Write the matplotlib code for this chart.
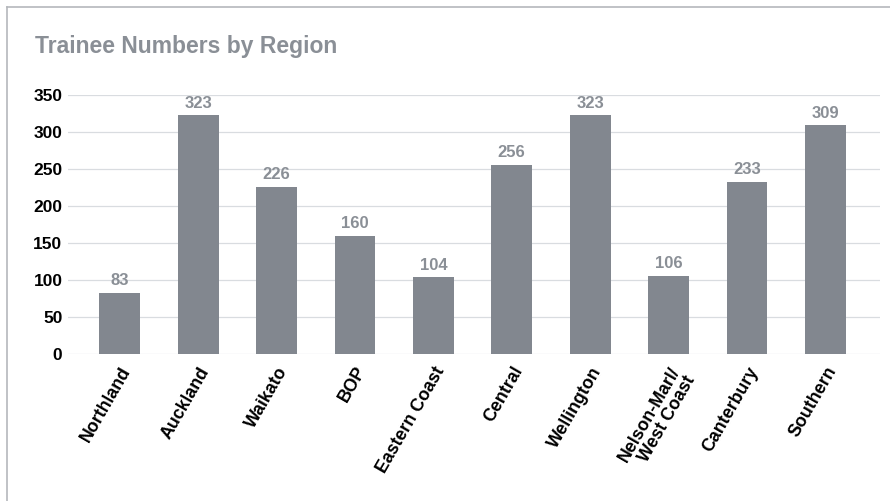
import matplotlib.pyplot as plt
from matplotlib.lines import Line2D

plt.rcParams['font.family'] = ['Liberation Sans', 'DejaVu Sans']

# 数据
regions = ['Northland', 'Auckland', 'Waikato', 'BOP', 'Eastern Coast', 'Central',
           'Wellington', 'Nelson-Marl/\nWest Coast', 'Canterbury', 'Southern']
trainees = [83, 323, 226, 160, 104, 256, 323, 106, 233, 309]
y_ticks = [0, 50, 100, 150, 200, 250, 300, 350]

bar_color = '#82878f'
label_grey = '#8a8f96'

fig = plt.figure(figsize=(8.9, 5.01), dpi=100)
ax = fig.add_axes([0.0764, 0.2934, 0.9126, 0.517])

x = range(len(regions))
ax.bar(x, trainees, width=0.52, color=bar_color, zorder=3)
for xi, v in zip(x, trainees):
    ax.text(xi, v + 6, str(v), ha='center', va='bottom', fontsize=12,
            fontweight='bold', color=label_grey, clip_on=False)

ax.set_xlim(-0.66, 9.7)
ax.set_ylim(0, 350)
ax.set_yticks(y_ticks)
ax.set_yticklabels([str(t) for t in y_ticks], fontsize=12.5, fontweight='bold', color='black')
ax.set_xticks(list(x))
ax.set_xticklabels(regions, rotation=60, ha='right', rotation_mode='anchor',
                   fontsize=12.8, fontweight='bold', color='black', multialignment='right',
                   linespacing=1.05)
ax.tick_params(axis='both', length=0)
ax.tick_params(axis='y', pad=4)
ax.tick_params(axis='x', pad=7)
ax.grid(axis='y', color='#d9dce0', linewidth=0.9, zorder=0)
for s in ax.spines.values():
    s.set_visible(False)

# 标题
fig.text(35 / 890, 1 - 47 / 501, 'Trainee Numbers by Region', fontsize=16.5,
         fontweight='bold', color=label_grey, ha='left', va='center')

# 外框（左、上）
fig.add_artist(Line2D([7 / 890, 7 / 890], [0, 1 - 7 / 501], color='#b5b8bc', linewidth=1.2,
                      transform=fig.transFigure))
fig.add_artist(Line2D([7 / 890, 1], [1 - 7 / 501, 1 - 7 / 501], color='#b5b8bc', linewidth=1.2,
                      transform=fig.transFigure))

plt.savefig('out.png', dpi=100)
